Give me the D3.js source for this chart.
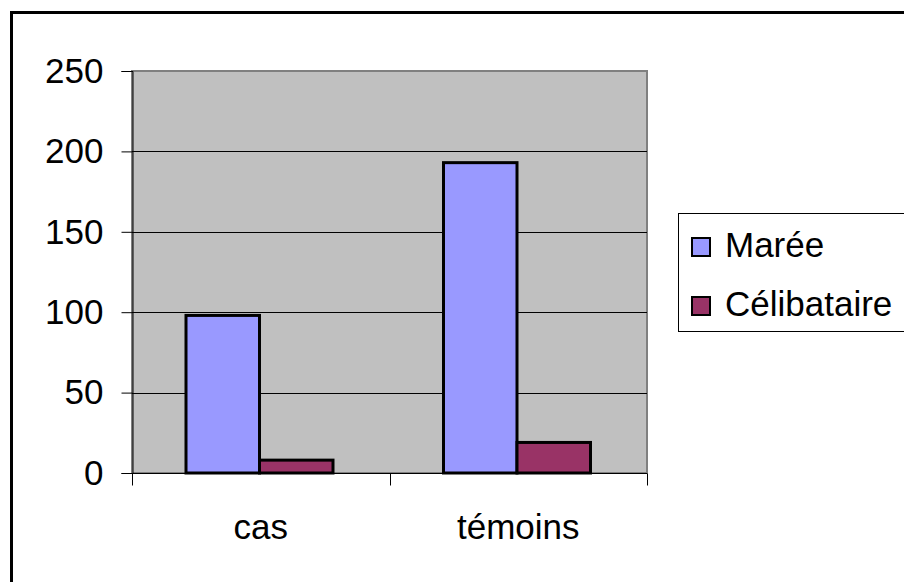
<!DOCTYPE html>
<html lang="fr">
<head>
    <meta charset="UTF-8">
    <title>Marée / Célibataire</title>
    <script src="https://d3js.org/d3.v7.min.js"></script>
    <style>
        body {
            margin: 0;
            padding: 0;
            background: #fff;
            overflow: hidden;
        }
        svg {
            display: block;
            font-family: "Liberation Sans", Arial, sans-serif;
        }
    </style>
</head>
<body>
    <svg id="chart" width="904" height="582"></svg>

    <script>
        // data
        const categories = ["cas", "témoins"];
        const seriesNames = ["Marée", "Célibataire"];
        const mareeValues = [98, 193];
        const celibataireValues = [8, 19];
        const yTickValues = [0, 50, 100, 150, 200, 250];
        const seriesColors = ["#9999FF", "#993366"];

        const width = 904;
        const height = 582;
        const plot = { left: 132, right: 647, top: 71, bottom: 473 };
        const fontSize = 35;

        const svg = d3.select("#chart");

        // outer frame (only top and left edges show, the rest is cut off)
        svg.append("rect")
            .attr("x", 11.5)
            .attr("y", 12.5)
            .attr("width", width + 20)
            .attr("height", height + 20)
            .attr("fill", "#fff")
            .attr("stroke", "#000")
            .attr("stroke-width", 3);

        const x0 = d3.scaleBand()
            .domain(categories)
            .range([plot.left, plot.right])
            .padding(0);

        const x1 = d3.scaleBand()
            .domain(seriesNames)
            .range([54, 201]);

        const y = d3.scaleLinear()
            .domain([0, 250])
            .range([plot.bottom, plot.top]);

        const color = d3.scaleOrdinal().domain(seriesNames).range(seriesColors);

        // plot area background
        svg.append("rect")
            .attr("x", plot.left)
            .attr("y", plot.top)
            .attr("width", plot.right - plot.left)
            .attr("height", plot.bottom - plot.top)
            .attr("fill", "#C0C0C0")
            .attr("stroke", "#808080")
            .attr("stroke-width", 2);

        // gridlines
        svg.append("g")
            .selectAll("line")
            .data(yTickValues.filter(d => d > 0 && d < 250))
            .enter().append("line")
            .attr("x1", plot.left)
            .attr("x2", plot.right)
            .attr("y1", d => Math.round(y(d)) + 0.5)
            .attr("y2", d => Math.round(y(d)) + 0.5)
            .attr("stroke", "#000")
            .attr("stroke-width", 1);

        // bars
        const rows = categories.map((c, i) => ({
            category: c,
            values: [
                { key: "Marée", value: mareeValues[i] },
                { key: "Célibataire", value: celibataireValues[i] }
            ]
        }));

        svg.append("g")
            .selectAll("g")
            .data(rows)
            .enter().append("g")
            .attr("transform", d => `translate(${x0(d.category)},0)`)
            .selectAll("rect")
            .data(d => d.values)
            .enter().append("rect")
            .attr("x", d => x1(d.key))
            .attr("y", d => y(d.value))
            .attr("width", x1.bandwidth())
            .attr("height", d => y(0) - y(d.value))
            .attr("fill", d => color(d.key))
            .attr("stroke", "#000")
            .attr("stroke-width", 3);

        // y axis
        const yAxis = svg.append("g")
            .attr("transform", `translate(${plot.left + 0.5},0)`)
            .call(d3.axisLeft(y).tickValues(yTickValues).tickSize(11).tickPadding(18));
        yAxis.select(".domain").attr("stroke", "#000");
        yAxis.selectAll(".tick line").attr("stroke", "#000");
        yAxis.selectAll("text")
            .attr("font-size", fontSize)
            .attr("font-family", "'Liberation Sans', Arial, sans-serif")
            .attr("fill", "#000");

        // x axis: ticks sit on the category boundaries
        const xAxis = svg.append("g")
            .attr("transform", `translate(0,${plot.bottom + 0.5})`);
        xAxis.append("line")
            .attr("x1", plot.left)
            .attr("x2", plot.right)
            .attr("stroke", "#000");
        xAxis.selectAll(".tick")
            .data([plot.left, ...categories.map(c => x0(c) + x0.bandwidth())])
            .enter().append("line")
            .attr("class", "tick")
            .attr("x1", d => Math.round(d) + 0.5)
            .attr("x2", d => Math.round(d) + 0.5)
            .attr("y1", 0)
            .attr("y2", 12)
            .attr("stroke", "#000");
        xAxis.selectAll("text")
            .data(categories)
            .enter().append("text")
            .attr("x", d => x0(d) + x0.bandwidth() / 2)
            .attr("y", 538 - plot.bottom)
            .attr("text-anchor", "middle")
            .attr("font-size", fontSize)
            .attr("fill", "#000")
            .text(d => d);

        // legend
        const legend = svg.append("g");
        legend.append("rect")
            .attr("x", 678.5)
            .attr("y", 213.5)
            .attr("width", 240)
            .attr("height", 118)
            .attr("fill", "#fff")
            .attr("stroke", "#000")
            .attr("stroke-width", 1);

        const legendItem = legend.selectAll(".item")
            .data(seriesNames)
            .enter().append("g")
            .attr("class", "item")
            .attr("transform", (d, i) => `translate(692,${238 + i * 59})`);
        legendItem.append("rect")
            .attr("width", 18)
            .attr("height", 18)
            .attr("fill", d => color(d))
            .attr("stroke", "#000")
            .attr("stroke-width", 2);
        legendItem.append("text")
            .attr("x", 33)
            .attr("y", 19)
            .attr("font-size", fontSize)
            .attr("fill", "#000")
            .text(d => d);
    </script>
</body>
</html>
